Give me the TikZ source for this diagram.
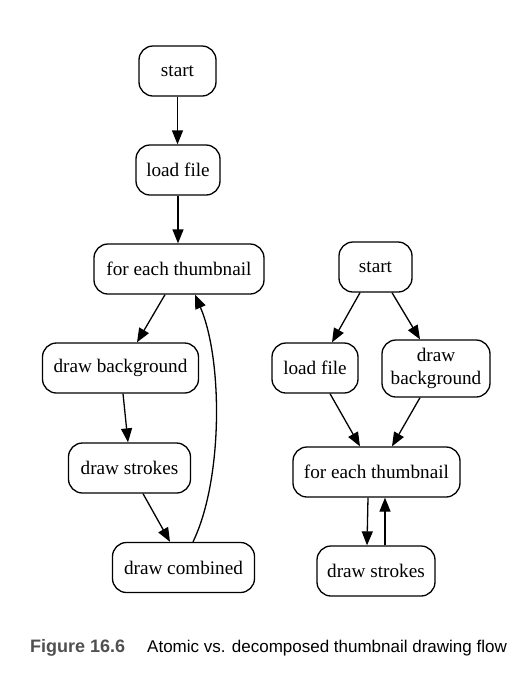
\documentclass[tikz,border=0pt]{standalone}
\usepackage{fontspec}
\setmainfont{Liberation Serif}
\newfontfamily\capfont{Liberation Sans}
\usetikzlibrary{arrows.meta}
\definecolor{capgray}{RGB}{80,80,80}
\begin{document}
\begin{tikzpicture}[x=1pt,y=-1pt,
  box/.style={draw=black, line width=1.3pt, rounded corners=14pt, inner sep=0pt,
    minimum height=50pt, font=\fontsize{19.2}{23}\selectfont, align=center},
  arr/.style={draw=black, line width=1.3pt, -{Triangle[length=14pt,width=11pt]}},
  captext/.style={anchor=base west, inner sep=0pt, font=\capfont\fontsize{17}{20}\selectfont}]
\useasboundingbox[fill=white] (0,0) rectangle (527,681);
% left flow
\node[box, minimum width=77pt]  (s1) at (177.5,71) {start};
\node[box, minimum width=84pt]  (l1) at (178,170) {load file};
\node[box, minimum width=170pt] (f1) at (179,269) {for each thumbnail};
\node[box, minimum width=156pt] (b1) at (120.5,368) {draw background};
\node[box, minimum width=122pt] (st1) at (129.5,468) {draw strokes};
\node[box, minimum width=142pt] (c1) at (183.5,567.5) {draw combined};
% right flow
\node[box, minimum width=73pt]  (s2) at (375.5,267) {start};
\node[box, minimum width=86pt]  (l2) at (315,368) {load file};
\node[box, minimum width=108pt, minimum height=57pt] (b2) at (436,368.5) {draw\\background};
\node[box, minimum width=167pt] (f2) at (376.5,472) {for each thumbnail};
\node[box, minimum width=118pt] (st2) at (376,571) {draw strokes};
% left edges
\draw[arr] (s1.south) -- (s1.south |- l1.north);
\draw[arr] (l1.south) -- (l1.south |- f1.north);
\draw[arr] ([xshift=-14pt]f1.south) -- ([xshift=16.5pt]b1.north);
\draw[arr] ([xshift=2.5pt]b1.south) -- ([xshift=-1.5pt]st1.north);
\draw[arr] ([xshift=13.5pt]st1.south) -- ([xshift=-13.5pt]c1.north);
\draw[arr] ([xshift=9.5pt]c1.north) .. controls (223,480) and (223,360) .. ([xshift=16pt]f1.south);
% right edges
\draw[arr] ([xshift=-15.5pt]s2.south) -- ([xshift=17pt]l2.north);
\draw[arr] ([xshift=16.5pt]s2.south) -- ([xshift=-16pt]b2.north);
\draw[arr] ([xshift=15pt]l2.south) -- ([xshift=-16.5pt]f2.north);
\draw[arr] ([xshift=-16pt]b2.south) -- ([xshift=15.5pt]f2.north);
\draw[arr] ([xshift=-8.5pt]f2.south) -- ([xshift=-9pt]st2.north);
\draw[arr] ([xshift=9pt]st2.north) -- ([xshift=8.5pt]f2.south);
% caption
\node[captext, text=capgray, font=\capfont\bfseries\fontsize{18}{20}\selectfont] (fig) at (30,652) {Figure 16.6};
\node[captext, text=black] (captxt) at (147,652) {Atomic vs. decomposed thumbnail drawing flow};
\end{tikzpicture}
\end{document}
